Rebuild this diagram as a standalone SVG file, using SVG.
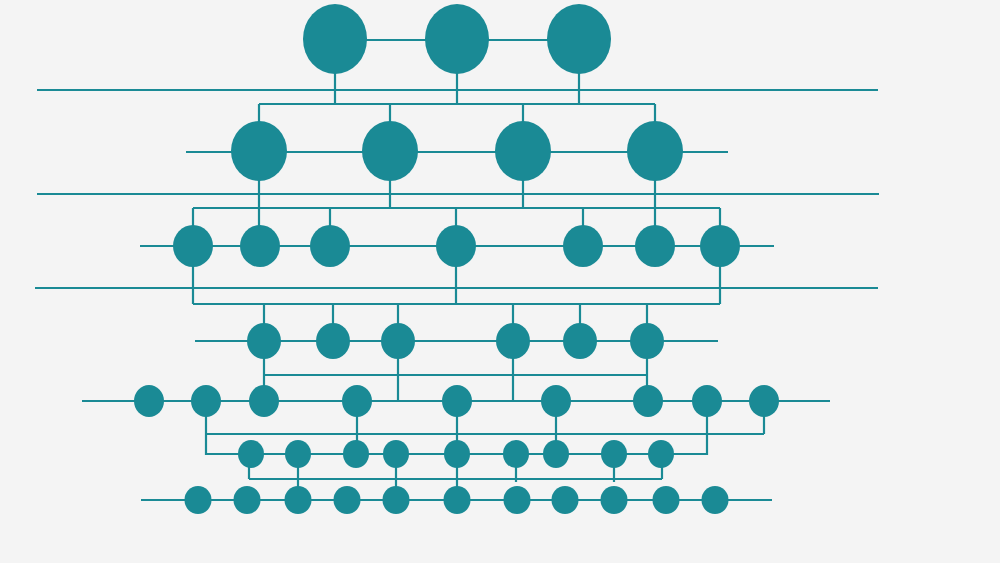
<svg xmlns="http://www.w3.org/2000/svg" width="1000" height="563" viewBox="0 0 1000 563">
<style>
.c{fill:#1a8a95}
.l{stroke:#1a8a95;stroke-width:2.2;fill:none}
</style>
<rect width="1000" height="563" fill="#f4f4f4"/>
<g id="connectors" class="l">
<path d="M37 90H878M37 194H879M35 288H878"/>
<path d="M335 40H579"/>
<path d="M335 70V104M457 70V104M579 70V104M259 104H655M259 104V125M390 104V125M523 104V125M655 104V125"/>
<path d="M186 152H728"/>
<path d="M259 175V230M390 175V208M523 175V208M655 175V230M193 208H720M193 208V230M330 208V230M456 208V230M583 208V230M720 208V230"/>
<path d="M140 246H774"/>
<path d="M193 260V304M456 260V304M720 260V304M193 304H720M264 304V325M333 304V325M398 304V325M513 304V325M580 304V325M647 304V325"/>
<path d="M195 341H718"/>
<path d="M264 355V390M398 355V401M513 355V401M647 355V390M264 375H647"/>
<path d="M82 401H830"/>
<path d="M206 410V454H240M357 410V445M457 410V445M556 410V445M707 410V454H670M764 410V434M206 434H764"/>
<path d="M206 454H706"/>
<path d="M249 462V479M298 462V490M396 462V490M457 462V490M516 462V482M614 462V482M662 462V479M249 479H662"/>
<path d="M141 500H772"/>
</g>
<g id="n1-1"><ellipse class="c" cx="335" cy="39" rx="32" ry="35"/></g>
<g id="n1-2"><ellipse class="c" cx="457" cy="39" rx="32" ry="35"/></g>
<g id="n1-3"><ellipse class="c" cx="579" cy="39" rx="32" ry="35"/></g>
<g id="n2-1"><ellipse class="c" cx="259" cy="151" rx="28" ry="30"/></g>
<g id="n2-2"><ellipse class="c" cx="390" cy="151" rx="28" ry="30"/></g>
<g id="n2-3"><ellipse class="c" cx="523" cy="151" rx="28" ry="30"/></g>
<g id="n2-4"><ellipse class="c" cx="655" cy="151" rx="28" ry="30"/></g>
<g id="n3-1"><ellipse class="c" cx="193" cy="246" rx="20" ry="21"/></g>
<g id="n3-2"><ellipse class="c" cx="260" cy="246" rx="20" ry="21"/></g>
<g id="n3-3"><ellipse class="c" cx="330" cy="246" rx="20" ry="21"/></g>
<g id="n3-4"><ellipse class="c" cx="456" cy="246" rx="20" ry="21"/></g>
<g id="n3-5"><ellipse class="c" cx="583" cy="246" rx="20" ry="21"/></g>
<g id="n3-6"><ellipse class="c" cx="655" cy="246" rx="20" ry="21"/></g>
<g id="n3-7"><ellipse class="c" cx="720" cy="246" rx="20" ry="21"/></g>
<g id="n4-1"><ellipse class="c" cx="264" cy="341" rx="17" ry="18"/></g>
<g id="n4-2"><ellipse class="c" cx="333" cy="341" rx="17" ry="18"/></g>
<g id="n4-3"><ellipse class="c" cx="398" cy="341" rx="17" ry="18"/></g>
<g id="n4-4"><ellipse class="c" cx="513" cy="341" rx="17" ry="18"/></g>
<g id="n4-5"><ellipse class="c" cx="580" cy="341" rx="17" ry="18"/></g>
<g id="n4-6"><ellipse class="c" cx="647" cy="341" rx="17" ry="18"/></g>
<g id="n5-1"><ellipse class="c" cx="149" cy="401" rx="15" ry="16"/></g>
<g id="n5-2"><ellipse class="c" cx="206" cy="401" rx="15" ry="16"/></g>
<g id="n5-3"><ellipse class="c" cx="264" cy="401" rx="15" ry="16"/></g>
<g id="n5-4"><ellipse class="c" cx="357" cy="401" rx="15" ry="16"/></g>
<g id="n5-5"><ellipse class="c" cx="457" cy="401" rx="15" ry="16"/></g>
<g id="n5-6"><ellipse class="c" cx="556" cy="401" rx="15" ry="16"/></g>
<g id="n5-7"><ellipse class="c" cx="648" cy="401" rx="15" ry="16"/></g>
<g id="n5-8"><ellipse class="c" cx="707" cy="401" rx="15" ry="16"/></g>
<g id="n5-9"><ellipse class="c" cx="764" cy="401" rx="15" ry="16"/></g>
<g id="n6-1"><ellipse class="c" cx="251" cy="454" rx="13" ry="14"/></g>
<g id="n6-2"><ellipse class="c" cx="298" cy="454" rx="13" ry="14"/></g>
<g id="n6-3"><ellipse class="c" cx="356" cy="454" rx="13" ry="14"/></g>
<g id="n6-4"><ellipse class="c" cx="396" cy="454" rx="13" ry="14"/></g>
<g id="n6-5"><ellipse class="c" cx="457" cy="454" rx="13" ry="14"/></g>
<g id="n6-6"><ellipse class="c" cx="516" cy="454" rx="13" ry="14"/></g>
<g id="n6-7"><ellipse class="c" cx="556" cy="454" rx="13" ry="14"/></g>
<g id="n6-8"><ellipse class="c" cx="614" cy="454" rx="13" ry="14"/></g>
<g id="n6-9"><ellipse class="c" cx="661" cy="454" rx="13" ry="14"/></g>
<g id="n7-1"><ellipse class="c" cx="198" cy="500" rx="13.5" ry="14"/></g>
<g id="n7-2"><ellipse class="c" cx="247" cy="500" rx="13.5" ry="14"/></g>
<g id="n7-3"><ellipse class="c" cx="298" cy="500" rx="13.5" ry="14"/></g>
<g id="n7-4"><ellipse class="c" cx="347" cy="500" rx="13.5" ry="14"/></g>
<g id="n7-5"><ellipse class="c" cx="396" cy="500" rx="13.5" ry="14"/></g>
<g id="n7-6"><ellipse class="c" cx="457" cy="500" rx="13.5" ry="14"/></g>
<g id="n7-7"><ellipse class="c" cx="517" cy="500" rx="13.5" ry="14"/></g>
<g id="n7-8"><ellipse class="c" cx="565" cy="500" rx="13.5" ry="14"/></g>
<g id="n7-9"><ellipse class="c" cx="614" cy="500" rx="13.5" ry="14"/></g>
<g id="n7-10"><ellipse class="c" cx="666" cy="500" rx="13.5" ry="14"/></g>
<g id="n7-11"><ellipse class="c" cx="715" cy="500" rx="13.5" ry="14"/></g>
</svg>
